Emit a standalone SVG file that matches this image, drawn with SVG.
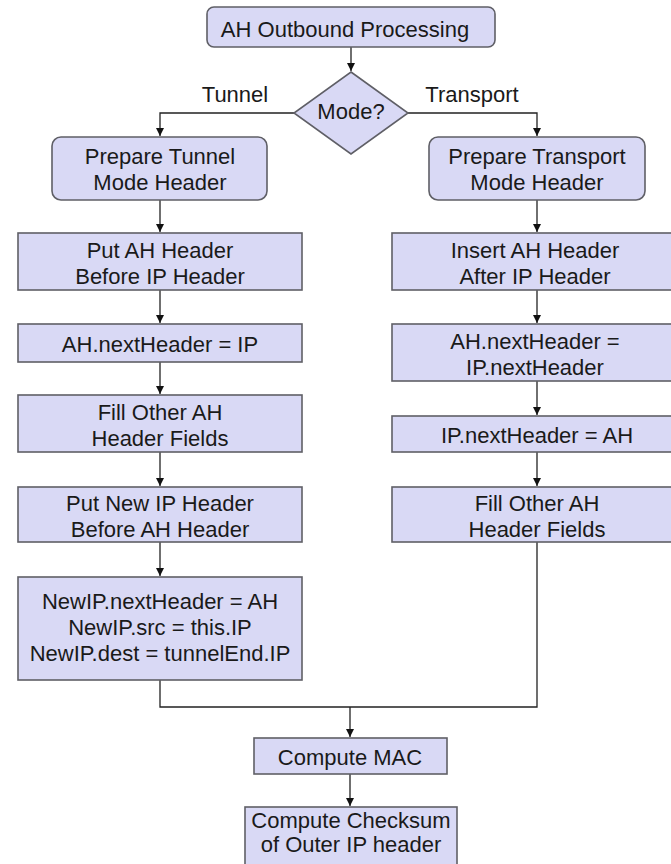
<svg xmlns="http://www.w3.org/2000/svg" width="671" height="864" viewBox="0 0 671 864">
  <style>
    .box { fill: #d9d9f5; stroke: #5f5f66; stroke-width: 1.6; }
    .lbl { font-family: "Liberation Sans", Arial, sans-serif; font-size: 22px; fill: #1a1a1a; text-anchor: middle; }
    .edge { fill: none; stroke: #222; stroke-width: 1.3; }
  </style>
  <defs>
    <marker id="arrow" markerUnits="userSpaceOnUse" markerWidth="9" markerHeight="9" refX="8" refY="4.5" orient="auto">
      <path d="M0,0.5 L8,4.5 L0,8.5 z" fill="#111"/>
    </marker>
  </defs>

  <rect width="671" height="864" fill="#ffffff"/>

  <g id="connectors">
    <path class="edge" d="M351,47 V71" marker-end="url(#arrow)"/>
    <path class="edge" d="M294,113 H160 V136" marker-end="url(#arrow)"/>
    <path class="edge" d="M408,113 H537 V136" marker-end="url(#arrow)"/>
    <path class="edge" d="M160,200 V232" marker-end="url(#arrow)"/>
    <path class="edge" d="M160,290 V323" marker-end="url(#arrow)"/>
    <path class="edge" d="M160,362 V394" marker-end="url(#arrow)"/>
    <path class="edge" d="M160,452 V486" marker-end="url(#arrow)"/>
    <path class="edge" d="M160,542 V576" marker-end="url(#arrow)"/>
    <path class="edge" d="M537,200 V232" marker-end="url(#arrow)"/>
    <path class="edge" d="M537,290 V323" marker-end="url(#arrow)"/>
    <path class="edge" d="M537,381 V415" marker-end="url(#arrow)"/>
    <path class="edge" d="M537,452 V486" marker-end="url(#arrow)"/>
    <path class="edge" d="M160,680 V707 H537 V542"/>
    <path class="edge" d="M350,707 V737" marker-end="url(#arrow)"/>
    <path class="edge" d="M350,774 V806" marker-end="url(#arrow)"/>
    <text class="lbl" x="235" y="102">Tunnel</text>
    <text class="lbl" x="472" y="102">Transport</text>
  </g>

  <g id="start">
    <rect class="box" x="207" y="7" width="288" height="40" rx="7"/>
    <text class="lbl" x="345" y="37">AH Outbound Processing</text>
  </g>

  <g id="mode">
    <polygon class="box" points="351,72 408,113 351,154 294,113"/>
    <text class="lbl" x="351" y="119">Mode?</text>
  </g>

  <g id="prep-tunnel">
    <rect class="box" x="52" y="137" width="215" height="63" rx="9"/>
    <text class="lbl" x="160" y="164">Prepare Tunnel</text>
    <text class="lbl" x="160" y="190">Mode Header</text>
  </g>

  <g id="put-ah">
    <rect class="box" x="18" y="233" width="284" height="57"/>
    <text class="lbl" x="160" y="258">Put AH Header</text>
    <text class="lbl" x="160" y="284">Before IP Header</text>
  </g>

  <g id="ah-next-ip">
    <rect class="box" x="18" y="324" width="284" height="38"/>
    <text class="lbl" x="160" y="352">AH.nextHeader = IP</text>
  </g>

  <g id="fill-tunnel">
    <rect class="box" x="18" y="395" width="284" height="57"/>
    <text class="lbl" x="160" y="420">Fill Other AH</text>
    <text class="lbl" x="160" y="446">Header Fields</text>
  </g>

  <g id="put-new-ip">
    <rect class="box" x="18" y="487" width="284" height="55"/>
    <text class="lbl" x="160" y="511">Put New IP Header</text>
    <text class="lbl" x="160" y="537">Before AH Header</text>
  </g>

  <g id="new-ip-fields">
    <rect class="box" x="18" y="577" width="284" height="103"/>
    <text class="lbl" x="160" y="609">NewIP.nextHeader = AH</text>
    <text class="lbl" x="160" y="635">NewIP.src = this.IP</text>
    <text class="lbl" x="160" y="661">NewIP.dest = tunnelEnd.IP</text>
  </g>

  <g id="prep-transport">
    <rect class="box" x="429" y="137" width="216" height="63" rx="9"/>
    <text class="lbl" x="537" y="164">Prepare Transport</text>
    <text class="lbl" x="537" y="190">Mode Header</text>
  </g>

  <g id="insert-ah">
    <rect class="box" x="392" y="233" width="290" height="57"/>
    <text class="lbl" x="535" y="258">Insert AH Header</text>
    <text class="lbl" x="535" y="284">After IP Header</text>
  </g>

  <g id="ah-next-ipnext">
    <rect class="box" x="392" y="324" width="290" height="57"/>
    <text class="lbl" x="535" y="349">AH.nextHeader =</text>
    <text class="lbl" x="535" y="375">IP.nextHeader</text>
  </g>

  <g id="ip-next-ah">
    <rect class="box" x="392" y="416" width="290" height="36"/>
    <text class="lbl" x="537" y="443">IP.nextHeader = AH</text>
  </g>

  <g id="fill-transport">
    <rect class="box" x="392" y="487" width="290" height="55"/>
    <text class="lbl" x="537" y="511">Fill Other AH</text>
    <text class="lbl" x="537" y="537">Header Fields</text>
  </g>

  <g id="compute-mac">
    <rect class="box" x="254" y="738" width="193" height="36"/>
    <text class="lbl" x="350" y="765">Compute MAC</text>
  </g>

  <g id="compute-checksum">
    <rect class="box" x="245" y="807" width="212" height="62"/>
    <text class="lbl" x="351" y="828">Compute Checksum</text>
    <text class="lbl" x="351" y="852">of Outer IP header</text>
  </g>
</svg>
